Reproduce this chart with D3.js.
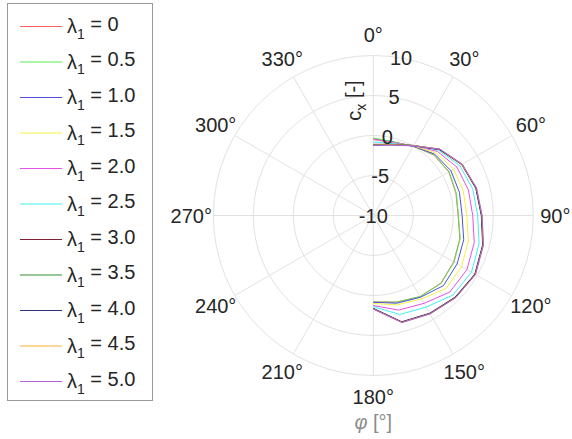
<!DOCTYPE html>
<html>
<head>
<meta charset="utf-8">
<script src="https://cdn.jsdelivr.net/npm/d3@7"></script>
<style>
	body { margin: 0; background: #fff; }
	text { font-family: "Liberation Sans", Arial, sans-serif; fill: #262626; }
</style>
</head>
<body>
<div id="chart"></div>
<script>
// angles of the polar samples, degrees clockwise from top
const angles = [0, 15, 30, 45, 60, 75, 90, 105, 120, 135, 150, 165, 180];

const lambdas = ["0", "0.5", "1.0", "1.5", "2.0", "2.5", "3.0", "3.5", "4.0", "4.5", "5.0"];
const colors = ["#ff6060", "#50f050", "#5050e0", "#f8f040", "#e850e8", "#40f0f0",
	"#802030", "#309030", "#303080", "#f8b030", "#b060e0"];

// c_x values for each lambda_1
const cx_l00 = [-0.4, -0.5, 0.0, 0.7, 0.9, 0.7, 0.6, 1.2, 1.6, 1.95, 1.7, 1.2, 0.8];
const cx_l05 = [-0.3, -0.45, 0.0, 0.75, 0.95, 0.75, 0.65, 1.25, 1.65, 2.0, 1.72, 1.22, 0.82];
const cx_l10 = [-0.5, -0.5, 0.0, 0.85, 1.2, 1.15, 1.1, 1.7, 2.1, 2.4, 1.8, 1.35, 0.85];
const cx_l15 = [-0.5, -0.55, 0.05, 1.07, 1.6, 1.66, 1.69, 2.31, 2.75, 2.89, 2.04, 1.56, 1.0];
const cx_l20 = [-0.45, -0.6, 0.1, 1.32, 2.08, 2.31, 2.43, 3.06, 3.52, 3.53, 2.68, 2.24, 1.25];
const cx_l25 = [-0.8, -0.7, 0.1, 1.53, 2.48, 2.86, 3.05, 3.69, 4.17, 4.07, 3.22, 2.81, 1.4];
const cx_l30 = [-1.1, -0.8, 0.1, 1.65, 2.75, 3.25, 3.5, 4.15, 4.65, 4.45, 4.1, 3.75, 1.6];
const cx_l35 = [-1.15, -0.8, 0.1, 1.7, 2.8, 3.3, 3.55, 4.2, 4.7, 4.5, 4.15, 3.8, 1.65];
const cx_l40 = [-1.2, -0.85, 0.05, 1.7, 2.8, 3.3, 3.55, 4.2, 4.7, 4.5, 4.15, 3.8, 1.65];
const cx_l45 = [-1.2, -0.85, 0.1, 1.75, 2.8, 3.35, 3.6, 4.25, 4.75, 4.55, 4.2, 3.85, 1.7];
const cx_l50 = [-1.25, -0.9, 0.05, 1.75, 2.85, 3.35, 3.6, 4.25, 4.75, 4.55, 4.2, 3.85, 1.7];

const series = [cx_l00, cx_l05, cx_l10, cx_l15, cx_l20, cx_l25, cx_l30, cx_l35, cx_l40, cx_l45, cx_l50];

const r_ticks = [-10, -5, 0, 5, 10];
const theta_ticks = d3.range(0, 360, 30);

const W = 572, H = 439;
const cx0 = 373.3, cy0 = 215.5;

const svg = d3.select("#chart").append("svg")
	.attr("width", W)
	.attr("height", H);

const r = d3.scaleLinear().domain([-10, 10]).range([0, 160]);
const rad = d => d * Math.PI / 180;

const polar = svg.append("g")
	.attr("transform", `translate(${cx0},${cy0})`);

// grid: rings and spokes
polar.selectAll(".ring")
	.data(r_ticks.filter(d => d > -10))
	.enter().append("circle")
	.attr("r", d => r(d))
	.attr("fill", "none")
	.attr("stroke", "#e2e2e2")
	.attr("stroke-width", 1);

polar.selectAll(".spoke")
	.data(theta_ticks)
	.enter().append("line")
	.attr("x1", 0).attr("y1", 0)
	.attr("x2", d => r(10) * Math.sin(rad(d)))
	.attr("y2", d => -r(10) * Math.cos(rad(d)))
	.attr("stroke", "#e2e2e2")
	.attr("stroke-width", 1);

// curves
const line = d3.lineRadial()
	.angle((d, i) => rad(angles[i]))
	.radius(d => r(d));

polar.selectAll(".curve")
	.data(series)
	.enter().append("path")
	.attr("d", d => line(d))
	.attr("fill", "none")
	.attr("stroke", (d, i) => colors[i])
	.attr("stroke-width", 1)
	.attr("stroke-linejoin", "round");

// theta labels
polar.selectAll(".tlabel")
	.data(theta_ticks)
	.enter().append("text")
	.attr("x", d => 182 * Math.sin(rad(d)))
	.attr("y", d => -181 * Math.cos(rad(d)))
	.attr("dy", "0.35em")
	.attr("text-anchor", "middle")
	.style("font-size", "20px")
	.text(d => d + "°");

// r labels along 10 degrees
polar.selectAll(".rlabel")
	.data(r_ticks)
	.enter().append("text")
	.attr("x", d => r(d) * Math.sin(rad(10)))
	.attr("y", d => -r(d) * Math.cos(rad(10)))
	.attr("dy", "0.35em")
	.attr("text-anchor", "middle")
	.style("font-size", "20px")
	.text(d => d);

// radial axis title
const rt = polar.append("text")
	.attr("transform", `translate(-19,-115) rotate(-90)`)
	.attr("dy", "0.35em")
	.attr("text-anchor", "middle")
	.style("font-size", "20px");
rt.append("tspan").text("c");
rt.append("tspan").attr("dy", "0.3em").style("font-size", "14px").text("x");
rt.append("tspan").attr("dy", "-0.3em").text(" [-]");

// theta axis title
const tt = svg.append("text")
	.attr("x", cx0)
	.attr("y", 429)
	.attr("text-anchor", "middle")
	.style("font-size", "20px")
	.style("fill", "#8c8c8c");
tt.append("tspan").style("font-style", "italic").text("φ");
tt.append("tspan").text(" [°]");

// legend
const legend = svg.append("g");
legend.append("rect")
	.attr("x", 7.5).attr("y", 3.5)
	.attr("width", 145).attr("height", 397)
	.attr("fill", "#fff")
	.attr("stroke", "#9a9a9a")
	.attr("stroke-width", 1);

const ly = d3.scaleLinear().domain([0, lambdas.length - 1]).range([26, 381]);

const items = legend.selectAll(".item")
	.data(lambdas)
	.enter().append("g")
	.attr("transform", (d, i) => `translate(0,${ly(i)})`);

items.append("line")
	.attr("x1", 20).attr("x2", 62)
	.attr("y1", 0.5).attr("y2", 0.5)
	.attr("stroke", (d, i) => colors[i])
	.attr("stroke-width", 1);

const lt = items.append("text")
	.attr("x", 67)
	.attr("y", 0)
	.attr("dy", "0.35em")
	.style("font-size", "20px");
lt.append("tspan").text("λ");
lt.append("tspan").attr("dy", "0.4em").style("font-size", "14px").text("1");
lt.append("tspan").attr("dy", "-0.4em").text(d => " = " + d);
</script>
</body>
</html>
